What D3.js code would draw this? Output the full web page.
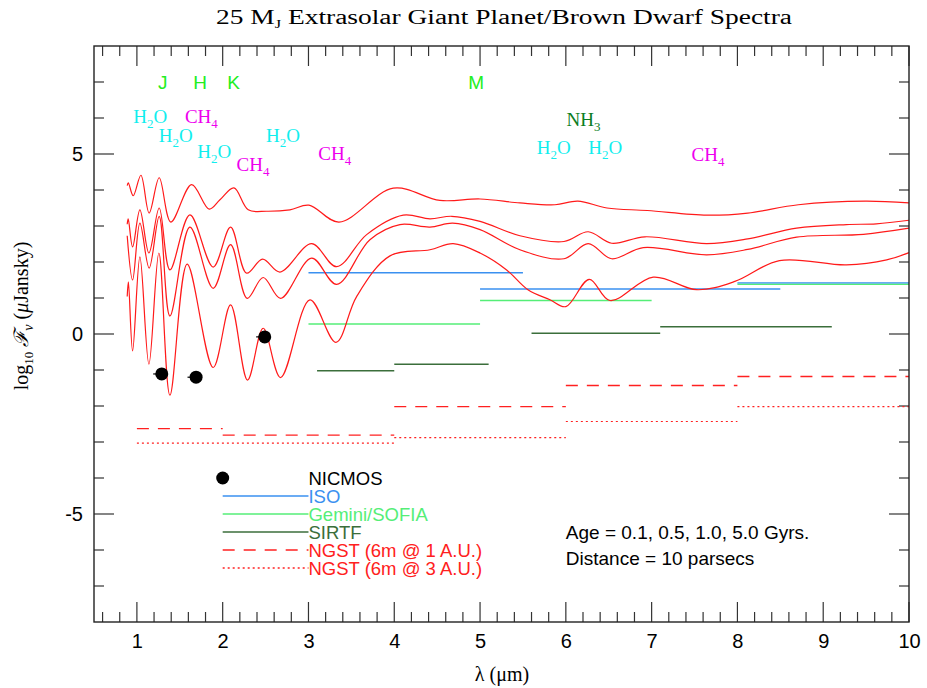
<!DOCTYPE html>
<html><head><meta charset="utf-8">
<script src="https://cdn.jsdelivr.net/npm/d3@7"></script>
<style>body{margin:0;background:#fff}</style>
</head><body><svg id="c" width="927" height="688"></svg>
<script>
// ---------- DATA ----------
// Spectra (log10 flux in microJansky) for ages 0.1, 0.5, 1.0, 5.0 Gyr
const lam01 = [0.887,0.90,0.957,1.047,1.143,1.26,1.396,1.638,1.843,1.968,2.131,2.298,2.512,2.784,3.005,3.355,3.988,4.532,5.0,5.465,5.873,6.14,6.48,6.95,7.645,8.12,8.71,9.49,10.0];
const flux01 = [4.12,4.20,3.84,4.41,3.36,4.34,3.11,4.15,3.47,3.73,4.06,3.45,3.41,3.45,3.58,3.11,4.05,3.71,3.75,3.64,3.59,3.69,3.50,3.43,3.30,3.36,3.59,3.69,3.64];
const lam05 = [0.887,0.899,0.95,1.035,1.14,1.26,1.385,1.618,1.889,2.092,2.279,2.465,2.667,3.037,3.328,3.678,4.104,4.416,4.669,5.0,5.465,5.978,6.261,6.534,6.922,7.642,8.12,8.69,9.27,9.62,10.0];
const flux05 = [3.05,3.20,2.42,3.45,2.25,3.50,1.78,3.31,1.86,2.97,1.69,2.08,1.72,2.51,1.87,2.76,3.30,3.20,3.27,3.13,2.73,2.57,2.84,2.52,2.70,2.51,2.64,2.94,3.04,3.06,3.16];
const lam10 = [0.887,0.95,1.035,1.143,1.26,1.385,1.618,1.889,2.092,2.286,2.472,2.675,3.037,3.328,3.716,4.066,4.416,4.68,5.0,5.465,5.978,6.261,6.534,6.902,7.642,8.12,8.69,9.47,10.0];
const flux10 = [2.73,1.50,3.08,1.83,3.27,0.50,2.97,1.27,2.48,0.99,1.57,0.99,2.11,1.38,2.62,3.04,2.97,3.08,2.90,2.34,2.09,2.51,2.09,2.40,2.20,2.35,2.69,2.77,2.94];
const lam50 = [0.887,0.901,0.95,1.035,1.14,1.256,1.385,1.586,1.889,2.092,2.29,2.472,2.675,3.017,3.32,3.561,3.95,4.416,4.687,5.0,5.31,5.558,5.815,6.0,6.273,6.514,7.019,7.525,7.97,8.49,9.27,9.74,10.0];
const flux50 = [1.04,1.45,-0.47,2.14,-0.84,2.25,-1.70,1.94,-0.93,0.81,-1.28,0.16,-1.21,0.95,-0.23,1.04,2.17,2.34,2.51,2.25,1.78,1.23,0.95,0.76,1.52,0.93,1.58,1.23,1.46,2.04,1.92,2.06,2.26];

// NICMOS photometry
const nicmosLam  = [1.29, 1.69, 2.49];
const nicmosFlux = [-1.11, -1.20, -0.08];

// Instrument sensitivity segments [lambdaStart, lambdaEnd, log flux]
const isoSeg    = [[3.0,5.5,1.70],[5.0,8.5,1.25],[8.0,10.0,1.42]];
const geminiSeg = [[3.0,5.0,0.28],[5.0,7.0,0.93],[8.0,10.0,1.38]];
const sirtfSeg  = [[3.1,4.0,-1.02],[4.0,5.1,-0.84],[5.6,7.1,0.02],[7.1,9.1,0.20]];
const ngst1Seg  = [[1.0,2.0,-2.63],[2.0,4.0,-2.81],[4.0,6.0,-2.02],[6.0,8.0,-1.43],[8.0,10.0,-1.18]];
const ngst3Seg  = [[1.0,4.0,-3.03],[4.0,6.0,-2.88],[6.0,8.0,-2.43],[8.0,10.0,-2.02]];

// Band / molecule annotations
const bandNames = ["J","H","K","M"];
const bandLam   = [1.245,1.656,2.053,4.862];
const bandFlux  = [6.80,6.80,6.80,6.80];
const molNames = ["H2O","CH4","H2O","H2O","CH4","H2O","CH4","NH3","H2O","H2O","CH4"];
const molLam   = [0.957,1.56,1.256,1.703,2.162,2.504,3.114,6.009,5.66,6.261,7.466];
const molFlux  = [5.85,5.85,5.34,4.89,4.52,5.34,4.83,5.79,5.01,5.01,4.80];

const legendNames = ["NICMOS","ISO","Gemini/SOFIA","SIRTF","NGST (6m @ 1 A.U.)","NGST (6m @ 3 A.U.)"];
const xTicks = [1,2,3,4,5,6,7,8,9,10];
const yTicks = [-5,0,5];

// ---------- DRAW ----------
const svg = d3.select("#c");
const L = 94, R = 909, T = 46, B = 622;
const x = d3.scaleLinear([0.5,10],[L,R]);
const y = d3.scaleLinear([-8,8],[B,T]);

const C = {
  spec:"#ff1a1a", iso:"#3a90f0", gemini:"#55ee77", sirtf:"#3b6e3b", ngst:"#ff2020",
  band:"#22ee22", H2O:"#11eeee", CH4:"#ee00ee", NH3:"#0b7d22"
};
const sans = "'Liberation Sans', Arial, Helvetica, sans-serif";
const serif = "'Liberation Serif', 'Times New Roman', serif";

// Axes / ticks
const minorX = d3.range(0.6,10.0,0.2).filter(v => Math.abs(v - Math.round(v)) > 1e-6);
const minorY = d3.range(-7,8,1).filter(v => v % 5 !== 0);
const axG = svg.append("g").attr("stroke","#333").attr("stroke-width",1.2);
function ticks(vals, len) {
  vals.forEach(v => {
    axG.append("line").attr("x1",x(v)).attr("x2",x(v)).attr("y1",B).attr("y2",B-len);
    axG.append("line").attr("x1",x(v)).attr("x2",x(v)).attr("y1",T).attr("y2",T+len);
  });
}
function yticks(vals, len) {
  vals.forEach(v => {
    axG.append("line").attr("y1",y(v)).attr("y2",y(v)).attr("x1",L).attr("x2",L+len);
    axG.append("line").attr("y1",y(v)).attr("y2",y(v)).attr("x1",R).attr("x2",R-len);
  });
}
ticks(minorX,10); ticks(xTicks,20);
yticks(minorY,10); yticks(yTicks,20);

svg.append("g").attr("transform",`translate(0,${B})`)
  .call(d3.axisBottom(x).tickValues(xTicks).tickSize(0).tickPadding(12).tickFormat(d=>String(d)))
  .call(g=>g.select(".domain").remove())
  .selectAll("text").attr("font-family",sans).attr("font-size",20).attr("fill","#000");
svg.append("g").attr("transform",`translate(${L},0)`)
  .call(d3.axisLeft(y).tickValues(yTicks).tickSize(0).tickPadding(11).tickFormat(d=>String(d)))
  .call(g=>g.select(".domain").remove())
  .selectAll("text").attr("font-family",sans).attr("font-size",20).attr("fill","#000");

// Instrument segments
const segG = svg.append("g").attr("fill","none");
function drawSegs(segs, color, dash, w) {
  segG.selectAll(null).data(segs).join("line")
    .attr("x1",d=>x(d[0])).attr("x2",d=>x(d[1]))
    .attr("y1",d=>y(d[2])).attr("y2",d=>y(d[2]))
    .attr("stroke",color).attr("stroke-width",w||1.3)
    .attr("stroke-dasharray",dash||null);
}
drawSegs(ngst3Seg, C.ngst, "2,3", 1.2);
drawSegs(ngst1Seg, C.ngst, "12,9", 1.3);
drawSegs(sirtfSeg, C.sirtf, null, 1.4);
drawSegs(geminiSeg, C.gemini, null, 1.5);
drawSegs(isoSeg, C.iso, null, 1.4);

// Spectra
const line = d3.line().x(d=>x(d[0])).y(d=>y(d[1])).curve(d3.curveCatmullRom.alpha(0.5));
[[lam01,flux01],[lam05,flux05],[lam10,flux10],[lam50,flux50]].forEach(([l,f]) => {
  svg.append("path").attr("d", line(d3.zip(l,f)))
    .attr("fill","none").attr("stroke",C.spec).attr("stroke-width",1.2);
});

// NICMOS points
const nG = svg.append("g");
d3.zip(nicmosLam,nicmosFlux).forEach(([l,f]) => {
  nG.append("line").attr("x1",x(l-0.1)).attr("x2",x(l)).attr("y1",y(f)).attr("y2",y(f))
    .attr("stroke","#000").attr("stroke-width",1.2);
  nG.append("circle").attr("cx",x(l)).attr("cy",y(f)).attr("r",6.5).attr("fill","#000");
});

// Band labels
bandNames.forEach((n,i) => {
  svg.append("text").attr("x",x(bandLam[i])).attr("y",y(bandFlux[i]))
    .attr("font-family",sans).attr("font-size",19).attr("fill",C.band).text(n);
});
// Molecule labels
molNames.forEach((n,i) => {
  const t = svg.append("text").attr("x",x(molLam[i])).attr("y",y(molFlux[i]))
    .attr("font-family",serif).attr("font-size",19).attr("fill",C[n]);
  const parts = n.match(/[A-Z]+|\d+/g);
  let sub = false;
  parts.forEach(p => {
    const isNum = /\d/.test(p);
    const ts = t.append("tspan").text(p);
    if (isNum) { ts.attr("dy",5).attr("font-size",13); sub = true; }
    else if (sub) { ts.attr("dy",-5); sub = false; }
  });
});

// Legend
const lgX0 = 2.0, lgX1 = 3.0, lgY0 = -4.0, lgStep = 0.5;
const lgStyles = [
  {dot:true, color:"#000"},
  {color:C.iso}, {color:C.gemini}, {color:C.sirtf},
  {color:C.ngst, dash:"12,9"}, {color:C.ngst, dash:"2,3"}
];
legendNames.forEach((n,i) => {
  const yy = y(lgY0 - i*lgStep), st = lgStyles[i];
  if (st.dot) svg.append("circle").attr("cx",x(lgX0)).attr("cy",yy).attr("r",6.5).attr("fill","#000");
  else svg.append("line").attr("x1",x(lgX0)).attr("x2",x(lgX1)).attr("y1",yy).attr("y2",yy)
      .attr("stroke",st.color).attr("stroke-width",1.3).attr("stroke-dasharray",st.dash||null);
  svg.append("text").attr("x",x(lgX1)).attr("y",yy).attr("dy","0.36em")
    .attr("font-family",sans).attr("font-size",18.5)
    .attr("fill", i===0 ? "#000" : (i>=4 ? C.ngst : st.color)).text(n);
});

// Age / distance note
svg.append("text").attr("x",x(6.0)).attr("y",y(-5.5)).attr("dy","0.36em")
  .attr("font-family",sans).attr("font-size",19).attr("fill","#000").text("Age = 0.1, 0.5, 1.0, 5.0 Gyrs.");
svg.append("text").attr("x",x(6.0)).attr("y",y(-6.22)).attr("dy","0.36em")
  .attr("font-family",sans).attr("font-size",19).attr("fill","#000").text("Distance = 10 parsecs");

// Frame
svg.append("rect").attr("x",L).attr("y",T).attr("width",R-L).attr("height",B-T)
  .attr("fill","none").attr("stroke","#222").attr("stroke-width",1.4);

// Title
const title = svg.append("text").attr("x",504).attr("y",24).attr("text-anchor","middle")
  .attr("font-family",serif).attr("font-size",20).attr("fill","#000")
  .attr("textLength",576).attr("lengthAdjust","spacingAndGlyphs");
title.append("tspan").text("25 M");
title.append("tspan").attr("dy",4).attr("font-size",12).text("J");
title.append("tspan").attr("dy",-4).text(" Extrasolar Giant Planet/Brown Dwarf Spectra");

// Axis titles
svg.append("text").attr("x",502).attr("y",681).attr("text-anchor","middle")
  .attr("font-family",serif).attr("font-size",20).attr("fill","#000").text("λ (μm)");
const yl = svg.append("text").attr("transform","translate(28,316) rotate(-90)").attr("text-anchor","middle")
  .attr("font-family",serif).attr("font-size",20).attr("fill","#000");
yl.append("tspan").text("log");
yl.append("tspan").attr("dy",5).attr("font-size",13).text("10");
yl.append("tspan").attr("dy",-5).text(" ");
yl.append("tspan").attr("font-style","italic").text("ℱ");
yl.append("tspan").attr("dy",5).attr("font-size",14).attr("font-style","italic").text("ν");
yl.append("tspan").attr("dy",-5).text(" (");
yl.append("tspan").attr("font-style","italic").text("μ");
yl.append("tspan").text("Jansky)");
</script></body></html>
